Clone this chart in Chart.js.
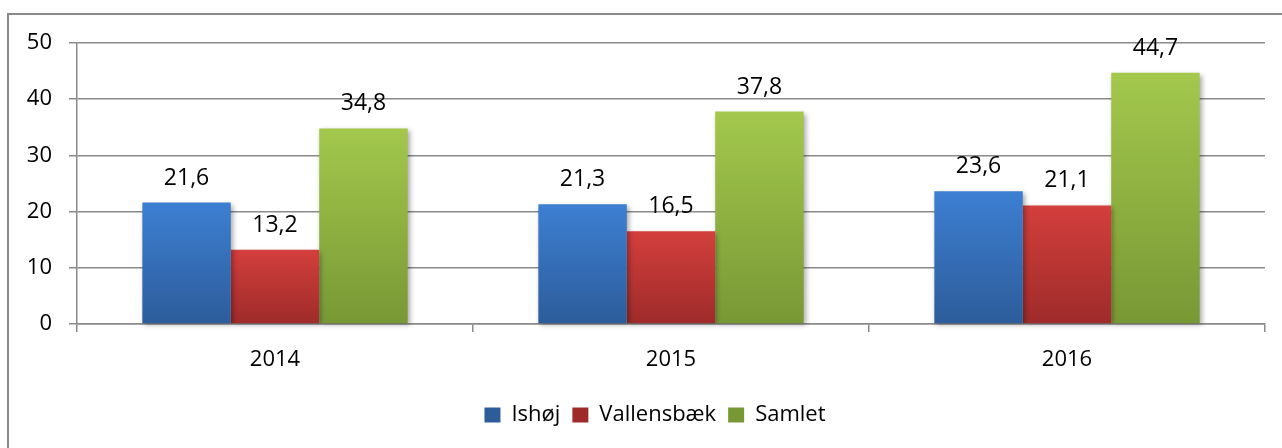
<!DOCTYPE html>
<html>
<head>
<meta charset="utf-8">
<script src="https://cdn.jsdelivr.net/npm/chart.js@4/dist/chart.umd.min.js"></script>
<style>
  html, body { margin: 0; padding: 0; background: #ffffff; }
  #wrap { width: 1282px; height: 448px; position: relative; }
</style>
</head>
<body>
<div id="wrap"><canvas id="c" width="1282" height="448"></canvas></div>
<script>
// Categories, series and axis ticks
const years = ['2014', '2015', '2016'];
const ishoj = [21.6, 21.3, 23.6];
const vallensbaek = [13.2, 16.5, 21.1];
const samlet = [34.8, 37.8, 44.7];
const yTicks = [0, 10, 20, 30, 40, 50];

const FONT = '"Open Sans", "Noto Sans", sans-serif';

// Each bar fades from a lighter top to a darker bottom
function barGradient(top, bottom) {
  return function (ctx) {
    const chart = ctx.chart;
    const c = chart.ctx;
    if (ctx.type === 'data' && chart.chartArea && chart.scales.y) {
      const yTop = chart.scales.y.getPixelForValue(ctx.raw);
      const yBot = chart.scales.y.getPixelForValue(0);
      if (isFinite(yTop) && isFinite(yBot) && yBot > yTop) {
        const g = c.createLinearGradient(0, yTop, 0, yBot);
        g.addColorStop(0, top);
        g.addColorStop(1, bottom);
        return g;
      }
    }
    const g = c.createLinearGradient(0, 407, 0, 423);
    g.addColorStop(0, top);
    g.addColorStop(1, bottom);
    return g;
  };
}

// Frame around the chart, running off the right and bottom edges
const framePlugin = {
  id: 'frame',
  beforeDraw(chart) {
    const c = chart.ctx;
    c.save();
    c.fillStyle = '#ffffff';
    c.fillRect(0, 0, chart.width, chart.height);
    c.strokeStyle = '#8a8a8a';
    c.lineWidth = 2;
    c.beginPath();
    c.moveTo(8, chart.height + 5);
    c.lineTo(8, 14);
    c.lineTo(chart.width + 5, 14);
    c.stroke();
    c.restore();
  }
};

// Soft drop shadow under the bars
const shadowPlugin = {
  id: 'barShadow',
  beforeDatasetsDraw(chart) {
    const c = chart.ctx;
    c.save();
    c.shadowColor = 'rgba(0,0,0,0.35)';
    c.shadowBlur = 5;
    c.shadowOffsetX = 2;
    c.shadowOffsetY = 2;
  },
  afterDatasetsDraw(chart) {
    chart.ctx.restore();
  }
};

// Value written above each bar, with a decimal comma
const valueLabels = {
  id: 'valueLabels',
  afterDatasetsDraw(chart) {
    const c = chart.ctx;
    c.save();
    c.font = '23px ' + FONT;
    c.fillStyle = '#000000';
    c.textAlign = 'center';
    c.textBaseline = 'alphabetic';
    chart.data.datasets.forEach((ds, di) => {
      const meta = chart.getDatasetMeta(di);
      meta.data.forEach((bar, i) => {
        const txt = ds.data[i].toFixed(1).replace('.', ',');
        c.fillText(txt, bar.x, bar.y - 18);
      });
    });
    c.restore();
  }
};

new Chart(document.getElementById('c'), {
  type: 'bar',
  data: {
    labels: years,
    datasets: [
      { label: 'Ishøj', data: ishoj, backgroundColor: barGradient('#3d7fd2', '#2c5c9a'), clip: false },
      { label: 'Vallensbæk', data: vallensbaek, backgroundColor: barGradient('#d33f3c', '#9e2b2a'), clip: false },
      { label: 'Samlet', data: samlet, backgroundColor: barGradient('#a3c84c', '#789835'), clip: false }
    ]
  },
  options: {
    responsive: false,
    animation: false,
    devicePixelRatio: 1,
    layout: { padding: { left: 45, right: 17, top: 43, bottom: 12 } },
    datasets: {
      bar: { barPercentage: 1.0, categoryPercentage: 0.67, borderWidth: 0 }
    },
    plugins: {
      tooltip: { enabled: false },
      legend: {
        position: 'bottom',
        labels: {
          font: { family: FONT, size: 22 },
          color: '#000000',
          boxWidth: 16,
          boxHeight: 15,
          padding: 12
        }
      }
    },
    scales: {
      x: {
        afterFit(scale) { scale.height = 68; },
        grid: {
          offset: true,
          drawOnChartArea: false,
          drawTicks: true,
          tickLength: 8,
          color: '#8a8a8a',
          lineWidth: 1.5
        },
        border: { display: true, color: '#8a8a8a', width: 1.5 },
        ticks: {
          font: { family: FONT, size: 22 },
          color: '#000000',
          padding: 15
        }
      },
      y: {
        min: 0,
        max: 50,
        afterFit(scale) {
          scale.width = 32;
          // let the tick labels extend past the narrow axis box
          scale._computeLabelArea = function () { return undefined; };
        },
        afterBuildTicks(scale) { scale.ticks = yTicks.map(v => ({ value: v })); },
        grid: {
          drawTicks: true,
          tickLength: 8,
          color: '#8a8a8a',
          lineWidth: 1.5
        },
        border: { display: true, color: '#8a8a8a', width: 1.5 },
        ticks: {
          font: { family: FONT, size: 22 },
          color: '#000000',
          padding: 17
        }
      }
    }
  },
  plugins: [framePlugin, shadowPlugin, valueLabels]
});
</script>
</body>
</html>
